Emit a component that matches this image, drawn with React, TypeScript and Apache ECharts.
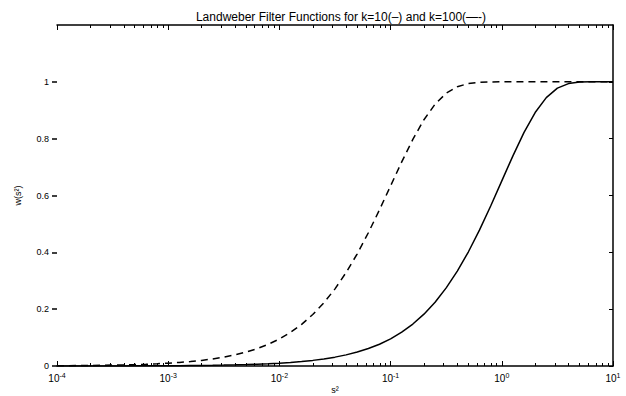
import React, { useEffect, useRef } from "react";
import * as echarts from "echarts";

const xValues = [
  1e-4, 1.259e-4, 1.585e-4, 1.995e-4, 2.512e-4, 3.162e-4, 3.981e-4, 5.012e-4, 6.31e-4, 7.943e-4,
  1e-3, 1.259e-3, 1.585e-3, 1.995e-3, 2.512e-3, 3.162e-3, 3.981e-3, 5.012e-3, 6.31e-3, 7.943e-3,
  1e-2, 1.259e-2, 1.585e-2, 1.995e-2, 2.512e-2, 3.162e-2, 3.981e-2, 5.012e-2, 6.31e-2, 7.943e-2,
  1e-1, 1.259e-1, 1.585e-1, 1.995e-1, 2.512e-1, 3.162e-1, 3.981e-1, 5.012e-1, 6.31e-1, 7.943e-1,
  1, 1.259, 1.585, 1.995, 2.512, 3.162, 3.981, 5.012, 6.31, 7.943,
  10,
];

const k10Values = [
  0.0001, 0.00013, 0.00016, 0.0002, 0.00025, 0.00032, 0.0004, 0.0005, 0.00063, 0.00079,
  0.001, 0.00126, 0.00158, 0.00199, 0.00251, 0.00316, 0.00398, 0.005, 0.00629, 0.00791,
  0.00995, 0.01252, 0.01574, 0.01978, 0.02484, 0.03118, 0.03911, 0.049, 0.06134, 0.07665,
  0.0956, 0.119, 0.1477, 0.1825, 0.2246, 0.2748, 0.3339, 0.402, 0.4789, 0.5629,
  0.6513, 0.7396, 0.822, 0.892, 0.9446, 0.9777, 0.9938, 0.9991, 0.99995, 1,
  1,
];

const k100Values = [
  0.001, 0.00126, 0.00158, 0.00199, 0.00251, 0.00316, 0.00397, 0.005, 0.00629, 0.00791,
  0.00995, 0.01251, 0.01572, 0.01976, 0.02481, 0.03113, 0.03904, 0.0489, 0.06116, 0.07639,
  0.0952, 0.1184, 0.1467, 0.1811, 0.2224, 0.2715, 0.329, 0.3949, 0.469, 0.5496,
  0.634, 0.7183, 0.7976, 0.8667, 0.9215, 0.9598, 0.9828, 0.9942, 0.9985, 0.9998,
  1, 1, 1, 1, 1, 1, 1, 1, 1, 1,
  1,
];

const majorXTicks = [1e-4, 1e-3, 1e-2, 1e-1, 1, 10];
const minorXTicks = [
  2e-4, 3e-4, 4e-4, 5e-4, 6e-4, 7e-4, 8e-4, 9e-4,
  2e-3, 3e-3, 4e-3, 5e-3, 6e-3, 7e-3, 8e-3, 9e-3,
  2e-2, 3e-2, 4e-2, 5e-2, 6e-2, 7e-2, 8e-2, 9e-2,
  2e-1, 3e-1, 4e-1, 5e-1, 6e-1, 7e-1, 8e-1, 9e-1,
  2, 3, 4, 5, 6, 7, 8, 9,
];
const yTicks = [0, 0.2, 0.4, 0.6, 0.8, 1];

const FONT = "'Liberation Sans', Arial, sans-serif";

export default function App() {
  const ref = useRef<HTMLDivElement>(null);
  useEffect(() => {
    if (!ref.current) return;
    const chart = echarts.init(ref.current, null, { renderer: "svg" });
    const lineStyle = { color: "#000", width: 1.5 };
    const baseX = {
      type: "log",
      logBase: 10,
      min: 1e-4,
      max: 10,
      gridIndex: 0,
      splitLine: { show: false },
      minorTick: { show: false },
      minorSplitLine: { show: false },
    };
    chart.setOption({
      animation: false,
      backgroundColor: "#fff",
      title: {
        text: "Landweber Filter Functions for k=10(–) and k=100(—-)",
        left: 336,
        textAlign: "center",
        top: 6,
        textStyle: { fontFamily: FONT, fontSize: 12, fontWeight: "normal", color: "#000" },
      },
      grid: { left: 57, right: 13, top: 25, bottom: 30, outerBoundsMode: "none", containLabel: false },
      xAxis: [
        {
          ...baseX,
          position: "bottom",
          name: "s²",
          nameLocation: "middle",
          nameGap: 19,
          nameMoveOverlap: false,
          nameTextStyle: { fontFamily: FONT, fontSize: 9, color: "#000", lineHeight: 10 },
          axisLine: { show: true, onZero: false, lineStyle },
          axisTick: { show: true, inside: true, length: 5, customValues: majorXTicks, lineStyle: { color: "#000", width: 1 } },
          axisLabel: {
            show: true,
            margin: 6,
            customValues: majorXTicks,
            formatter: (v: number) => `{b|10}{s|${Math.round(Math.log10(v))}}`,
            rich: {
              b: { fontFamily: FONT, fontSize: 10, color: "#000" },
              s: { fontFamily: FONT, fontSize: 7, color: "#000", verticalAlign: "top", padding: [0, 0, 6, 0] },
            },
          },
        },
        {
          ...baseX,
          position: "top",
          axisLine: { show: true, onZero: false, lineStyle },
          axisTick: { show: true, inside: true, length: 5, customValues: majorXTicks, lineStyle: { color: "#000", width: 1 } },
          axisLabel: { show: false },
        },
        {
          ...baseX,
          position: "bottom",
          axisLine: { show: false, onZero: false },
          axisTick: { show: true, inside: true, length: 3, customValues: minorXTicks, lineStyle: { color: "#000", width: 1 } },
          axisLabel: { show: false },
        },
        {
          ...baseX,
          position: "top",
          axisLine: { show: false, onZero: false },
          axisTick: { show: true, inside: true, length: 3, customValues: minorXTicks, lineStyle: { color: "#000", width: 1 } },
          axisLabel: { show: false },
        },
      ],
      yAxis: [
        {
          type: "value",
          min: 0,
          max: 1.2,
          interval: 0.2,
          position: "left",
          name: "w(s²)",
          nameLocation: "middle",
          nameGap: 35,
          nameRotate: 90,
          nameMoveOverlap: false,
          nameTextStyle: { fontFamily: FONT, fontSize: 9, color: "#000" },
          splitLine: { show: false },
          axisLine: { show: false, onZero: false },
          axisTick: { show: true, inside: false, length: 5, customValues: yTicks, lineStyle: { color: "#000", width: 1.5 } },
          axisLabel: {
            show: true,
            margin: 8,
            customValues: yTicks,
            formatter: (v: number) => String(Math.round(v * 10) / 10),
            fontFamily: FONT,
            fontSize: 9,
            color: "#000",
          },
        },
        {
          type: "value",
          min: 0,
          max: 1.2,
          interval: 0.2,
          position: "right",
          splitLine: { show: false },
          axisLine: { show: true, onZero: false, lineStyle },
          axisTick: { show: true, inside: true, length: 4, customValues: yTicks, lineStyle: { color: "#000", width: 1 } },
          axisLabel: { show: false },
        },
      ],
      series: [
        {
          name: "k=10",
          type: "line",
          xAxisIndex: 0,
          yAxisIndex: 0,
          data: xValues.map((x, i) => [x, k10Values[i]]),
          showSymbol: false,
          smooth: false,
          lineStyle: { color: "#000", width: 1.5, type: "solid" },
        },
        {
          name: "k=100",
          type: "line",
          xAxisIndex: 0,
          yAxisIndex: 0,
          data: xValues.map((x, i) => [x, k100Values[i]]),
          showSymbol: false,
          smooth: false,
          lineStyle: { color: "#000", width: 1.5, type: [7, 5] },
        },
      ],
    });
    return () => chart.dispose();
  }, []);
  return <div ref={ref} style={{ width: 626, height: 396, position: "absolute", left: 0, top: 0 }} />;
}
